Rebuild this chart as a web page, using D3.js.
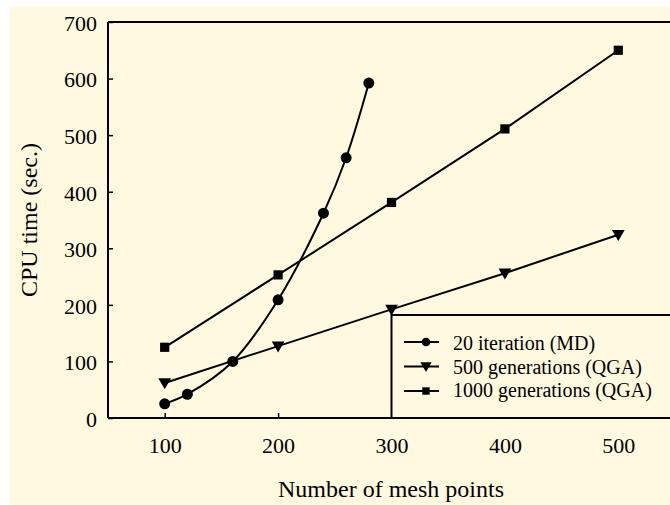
<!DOCTYPE html>
<html>
<head>
<meta charset="utf-8">
<script src="https://cdn.jsdelivr.net/npm/d3@7"></script>
<style>
  html, body { margin: 0; padding: 0; background: #ffffff; }
  svg { display: block; }
  text { font-family: "Liberation Serif", "Times New Roman", serif; fill: #000; }
</style>
</head>
<body>
<svg id="chart" width="670" height="505"></svg>
<script>
// Mesh size vs. CPU time for the three solvers
const mdMesh = [100, 120, 160, 200, 240, 260, 280];
const mdTime = [25, 42, 100, 209, 362, 460, 592];

const qgaMesh = [100, 200, 300, 400, 500];
const qga500Time = [62, 127, 192, 256, 324];
const qga1000Time = [125, 253, 381, 511, 650];

const xTicks = [100, 200, 300, 400, 500];
const yTicks = [0, 100, 200, 300, 400, 500, 600, 700];

const seriesNames = ["20 iteration (MD)", "500 generations (QGA)", "1000 generations (QGA)"];

const svg = d3.select("#chart");

// cream panel
svg.append("rect")
  .attr("x", 10).attr("y", 7)
  .attr("width", 660).attr("height", 498)
  .attr("fill", "#fffadf");

const plotLeft = 108, plotTop = 22, plotBottom = 418;
const x = d3.scaleLinear().domain([50, 550]).range([plotLeft, plotLeft + 567]);
const y = d3.scaleLinear().domain([0, 700]).range([plotBottom, plotTop]);

// frame: top border
svg.append("line")
  .attr("x1", plotLeft).attr("x2", 670)
  .attr("y1", plotTop).attr("y2", plotTop)
  .attr("stroke", "#000").attr("stroke-width", 2);

// x axis
const xAxis = svg.append("g")
  .attr("transform", `translate(0,${plotBottom})`)
  .call(d3.axisBottom(x).tickValues(xTicks).tickSize(-5).tickPadding(19).tickFormat(d3.format("d")));
xAxis.select(".domain").remove();
xAxis.append("line").attr("x1", plotLeft).attr("x2", 670).attr("stroke", "#000").attr("stroke-width", 2);
xAxis.selectAll(".tick line").attr("stroke", "#000").attr("stroke-width", 1.5);
xAxis.selectAll(".tick text")
  .style("font-family", "'Liberation Serif', serif")
  .style("font-size", "22px")
  .attr("dy", "0.71em");

// y axis
const yAxis = svg.append("g")
  .attr("transform", `translate(${plotLeft},0)`)
  .call(d3.axisLeft(y).tickValues(yTicks).tickSize(-5).tickPadding(11).tickFormat(d3.format("d")));
yAxis.select(".domain").remove();
yAxis.append("line").attr("y1", plotTop).attr("y2", plotBottom).attr("stroke", "#000").attr("stroke-width", 2);
yAxis.selectAll(".tick line").attr("stroke", "#000").attr("stroke-width", 1.5);
yAxis.selectAll(".tick text")
  .style("font-family", "'Liberation Serif', serif")
  .style("font-size", "22px")
  .attr("dy", "0.38em");

// axis titles
svg.append("text")
  .attr("x", 391).attr("y", 497)
  .attr("text-anchor", "middle")
  .style("font-size", "24px")
  .text("Number of mesh points");

svg.append("text")
  .attr("transform", "translate(37,220) rotate(-90)")
  .attr("text-anchor", "middle")
  .style("font-size", "24px")
  .text("CPU time (sec.)");

// markers
const sym = {
  circle: d3.symbol().type(d3.symbolCircle),
  tri: d3.symbol().type(d3.symbolTriangle),
  square: d3.symbol().type(d3.symbolSquare)
};
function drawMarker(g, kind, cx, cy, size) {
  const p = g.append("path")
    .attr("d", sym[kind].size(size)())
    .attr("fill", "#000");
  if (kind === "tri") p.attr("transform", `translate(${cx},${cy - 1}) rotate(180)`);
  else p.attr("transform", `translate(${cx},${cy})`);
}

const lineStyle = g => g.attr("fill", "none").attr("stroke", "#000").attr("stroke-width", 2);

const plot = svg.append("g");

// 1000 generations (QGA)
plot.append("path")
  .datum(qgaMesh.map((m, i) => [m, qga1000Time[i]]))
  .call(lineStyle)
  .attr("d", d3.line().x(d => x(d[0])).y(d => y(d[1])));
// 500 generations (QGA)
plot.append("path")
  .datum(qgaMesh.map((m, i) => [m, qga500Time[i]]))
  .call(lineStyle)
  .attr("d", d3.line().x(d => x(d[0])).y(d => y(d[1])));
// 20 iteration (MD) — smooth curve
plot.append("path")
  .datum(mdMesh.map((m, i) => [m, mdTime[i]]))
  .call(lineStyle)
  .attr("d", d3.line().curve(d3.curveCatmullRom.alpha(0.5)).x(d => x(d[0])).y(d => y(d[1])));

qgaMesh.forEach((m, i) => drawMarker(plot, "square", x(m), y(qga1000Time[i]), 85));
qgaMesh.forEach((m, i) => drawMarker(plot, "tri", x(m), y(qga500Time[i]), 70));
mdMesh.forEach((m, i) => drawMarker(plot, "circle", x(m), y(mdTime[i]), 95));

// legend
const leg = svg.append("g");
leg.append("rect")
  .attr("x", x(300)).attr("y", 315)
  .attr("width", 700 - x(300)).attr("height", plotBottom - 315)
  .attr("fill", "#fffadf")
  .attr("stroke", "#000").attr("stroke-width", 2);
const kinds = ["circle", "tri", "square"];
const sizes = [60, 55, 55];
seriesNames.forEach((name, i) => {
  const ry = 342 + i * 24.5;
  leg.append("line")
    .attr("x1", 404).attr("x2", 439)
    .attr("y1", ry).attr("y2", ry)
    .attr("stroke", "#000").attr("stroke-width", 2);
  drawMarker(leg, kinds[i], 426, ry, sizes[i]);
  leg.append("text")
    .attr("x", 453).attr("y", 350 + i * 23.5)
    .style("font-size", "20px")
    .text(name);
});
</script>
</body>
</html>
